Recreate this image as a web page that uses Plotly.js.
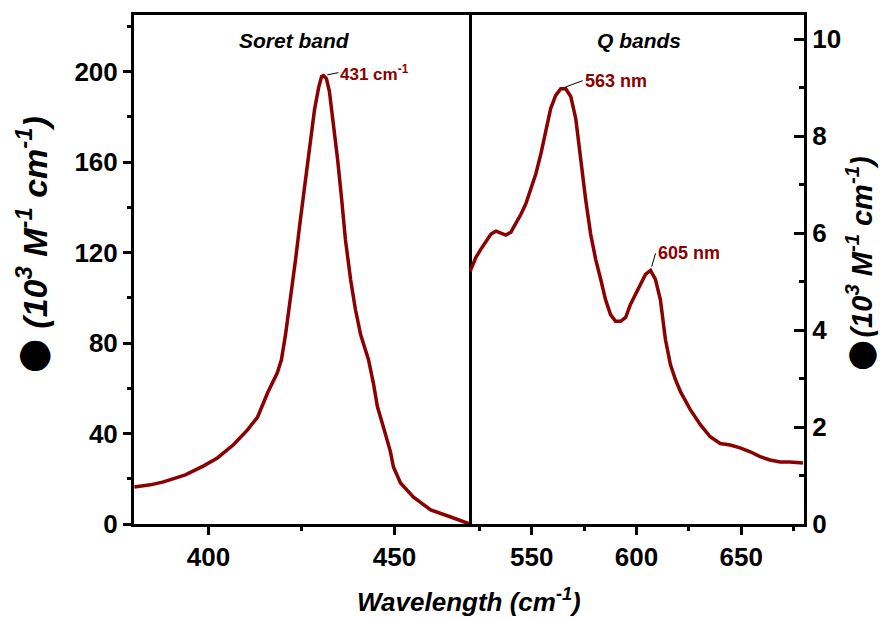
<!DOCTYPE html>
<html>
<head>
<meta charset="utf-8">
<script src="https://cdn.plot.ly/plotly-3.0.1.min.js"></script>
<style>html,body{margin:0;padding:0;background:#fff;}#chart{width:880px;height:619px;}</style>
</head>
<body>
<div id="chart"></div>
<script>
// Soret band (left panel)
const soretX = [380.1,384.4,387.9,393.8,398.7,402.4,406.7,410.5,413.2,415.9,418.5,419.6,420.7,422.0,423.4,424.7,426.1,427.4,428.5,429.6,430.4,430.9,431.7,432.5,433.6,434.7,435.8,436.8,438.2,439.5,440.9,442.2,443.0,444.4,445.4,447.0,448.9,449.7,451.6,455.1,459.7,465.1,470.2];
const soretY = [16.4,17.3,18.6,21.7,25.7,29.2,35.0,41.6,47.3,58.0,66.8,72.6,83.6,99.1,116.8,134.5,152.2,169.9,183.2,192.9,197.8,198.2,196.9,191.2,176.5,161.1,143.4,125.7,108.0,94.7,83.6,77.0,72.6,61.5,51.8,42.9,31.9,25.2,18.1,11.9,6.2,3.1,0.0];
// Q bands (right panel)
const qX = [520.5,523.3,525.7,528.1,530.5,532.9,535.2,537.6,540.0,542.4,544.8,547.1,549.5,551.9,554.3,556.7,559.0,561.4,563.8,566.2,568.6,571.0,573.3,575.7,578.1,580.5,582.9,585.2,587.6,590.0,592.4,594.8,597.1,599.5,601.9,604.3,606.7,609.0,611.4,613.8,616.2,618.6,621.0,625.7,630.5,635.2,640.0,644.8,649.5,654.3,659.0,663.8,668.6,673.3,679.5];
const qY = [5.21,5.50,5.67,5.81,5.98,6.04,6.00,5.96,6.02,6.19,6.39,6.60,6.91,7.22,7.63,8.15,8.57,8.84,8.98,8.98,8.82,8.36,7.53,6.70,5.98,5.46,5.05,4.63,4.32,4.18,4.18,4.26,4.53,4.74,4.95,5.15,5.23,5.05,4.63,3.81,3.29,2.98,2.73,2.36,2.05,1.80,1.66,1.63,1.57,1.49,1.39,1.32,1.28,1.28,1.26];

const soretXTicks = [400, 450];
const soretXMinor = [425];
const qXTicks = [550, 600, 650];
const qXMinor = [525, 575, 625, 675];
const soretYTicks = [0, 40, 80, 120, 160, 200];
const soretYMinor = [20, 60, 100, 140, 180, 220];
const qYTicks = [0, 2, 4, 6, 8, 10];
const qYMinor = [1, 3, 5, 7, 9];

const panelTitles = ['Soret band', 'Q bands'];
const peakLabels = ['431 cm<sup>-1</sup>', '563 nm', '605 nm'];
const ySymbol = '⬤';
const yUnits = '<b><i>(10<sup>3</sup> M<sup>-1</sup> cm<sup>-1</sup>)</i></b>';
const xTitle = '<b><i>Wavelength (cm<sup>-1</sup>)</i></b>';

const RED = '#8b0000';
const FONT = 'Liberation Sans, Arial, sans-serif';
const SYMFONT = 'DejaVu Sans, Noto Sans, sans-serif';
const tickFont = {family: FONT, size: 26, color: '#000', weight: 700};

function argmaxIn(xs, ys, lo, hi) {
  let best = -1;
  for (let i = 0; i < xs.length; i++) {
    if (xs[i] >= lo && xs[i] <= hi && (best < 0 || ys[i] > ys[best])) best = i;
  }
  return best;
}
const pS = argmaxIn(soretX, soretY, 380, 470);
const pQ1 = argmaxIn(qX, qY, 540, 580);
const pQ2 = argmaxIn(qX, qY, 598, 615);

const traces = [
  {x: soretX, y: soretY, xaxis: 'x', yaxis: 'y', mode: 'lines', line: {color: RED, width: 3.5}, hoverinfo: 'skip'},
  {x: qX, y: qY, xaxis: 'x2', yaxis: 'y2', mode: 'lines', line: {color: RED, width: 3.5}, hoverinfo: 'skip'}
];

const common = {showgrid: false, zeroline: false, showline: true, linecolor: '#000', linewidth: 3, tickcolor: '#000', tickwidth: 3, fixedrange: true};
const minorStyle = {ticklen: 4, tickwidth: 3, tickcolor: '#000'};

const layout = {
  width: 880, height: 619,
  margin: {l: 134, r: 76, t: 15, b: 95},
  paper_bgcolor: '#fff', plot_bgcolor: '#fff',
  showlegend: false,
  xaxis: Object.assign({}, common, {domain: [0, 0.5], range: [380, 470], anchor: 'y', mirror: true,
    tickmode: 'array', tickvals: soretXTicks, ticks: 'outside', ticklen: 8, tickfont: tickFont,
    minor: Object.assign({tickmode: 'array', tickvals: soretXMinor, ticks: 'outside'}, minorStyle)}),
  xaxis2: Object.assign({}, common, {domain: [0.5, 1], range: [520, 680], anchor: 'y2', mirror: true,
    tickmode: 'array', tickvals: qXTicks, ticks: 'outside', ticklen: 8, tickfont: tickFont,
    minor: Object.assign({tickmode: 'array', tickvals: qXMinor, ticks: 'outside'}, minorStyle)}),
  xaxis3: Object.assign({}, common, {overlaying: 'x', side: 'top', anchor: 'y', range: [380, 470], showline: false,
    tickmode: 'array', tickvals: soretXTicks, ticks: 'inside', ticklen: 8, showticklabels: false,
    minor: Object.assign({tickmode: 'array', tickvals: soretXMinor, ticks: 'inside'}, minorStyle)}),
  xaxis4: Object.assign({}, common, {overlaying: 'x2', side: 'top', anchor: 'y2', range: [520, 680], showline: false,
    tickmode: 'array', tickvals: qXTicks, ticks: 'inside', ticklen: 8, showticklabels: false,
    minor: Object.assign({tickmode: 'array', tickvals: qXMinor, ticks: 'inside'}, minorStyle)}),
  yaxis: Object.assign({}, common, {domain: [0, 1], range: [0, 225], anchor: 'x', mirror: true,
    tickmode: 'array', tickvals: soretYTicks, ticks: 'outside', ticklen: 8, tickfont: tickFont,
    minor: Object.assign({tickmode: 'array', tickvals: soretYMinor, ticks: 'outside'}, minorStyle)}),
  yaxis2: Object.assign({}, common, {domain: [0, 1], range: [0, 10.5], anchor: 'x2', side: 'right', mirror: false,
    tickmode: 'array', tickvals: qYTicks, ticks: 'inside', ticklen: 10, tickfont: tickFont,
    minor: {tickmode: 'array', tickvals: qYMinor, ticks: 'inside', ticklen: 5, tickwidth: 3, tickcolor: '#000'}}),
  annotations: [
    {text: '<b><i>' + panelTitles[0] + '</i></b>', xref: 'x domain', yref: 'paper', x: 0.48, y: 0.949, showarrow: false,
     xanchor: 'center', yanchor: 'middle', font: {family: FONT, size: 21, color: '#000'}},
    {text: '<b><i>' + panelTitles[1] + '</i></b>', xref: 'x2 domain', yref: 'paper', x: 0.507, y: 0.949, showarrow: false,
     xanchor: 'center', yanchor: 'middle', font: {family: FONT, size: 21, color: '#000'}},
    {text: '<b>' + peakLabels[0] + '</b>', xref: 'x', yref: 'y', x: soretX[pS], y: soretY[pS], showarrow: true,
     arrowhead: 0, arrowwidth: 1, arrowcolor: '#000', ax: 15, ay: -3, xanchor: 'left', yanchor: 'middle', standoff: 4,
     font: {family: FONT, size: 17, color: RED}},
    {text: '<b>' + peakLabels[1] + '</b>', xref: 'x2', yref: 'y2', x: qX[pQ1], y: qY[pQ1], showarrow: true,
     arrowhead: 0, arrowwidth: 1, arrowcolor: '#000', ax: 22, ay: -8, xanchor: 'left', yanchor: 'middle', standoff: 5,
     font: {family: FONT, size: 18, color: RED}},
    {text: '<b>' + peakLabels[2] + '</b>', xref: 'x2', yref: 'y2', x: qX[pQ2], y: qY[pQ2], showarrow: true,
     arrowhead: 0, arrowwidth: 1, arrowcolor: '#000', ax: 5, ay: -17, xanchor: 'left', yanchor: 'middle', standoff: 4,
     font: {family: FONT, size: 18, color: RED}},
    // left y title
    {text: yUnits, xref: 'paper', yref: 'paper', x: -0.153, y: 0.593, textangle: -90, showarrow: false,
     xanchor: 'center', yanchor: 'middle', font: {family: FONT, size: 34, color: '#000'}},
    {text: ySymbol, xref: 'paper', yref: 'paper', x: -0.152, y: 0.331, textangle: -90, showarrow: false,
     xanchor: 'center', yanchor: 'middle', font: {family: SYMFONT, size: 30, color: '#000'}},
    // right y title
    {text: yUnits, xref: 'paper', yref: 'paper', x: 1.082, y: 0.545, textangle: -90, showarrow: false,
     xanchor: 'center', yanchor: 'middle', font: {family: FONT, size: 29, color: '#000'}},
    {text: ySymbol, xref: 'paper', yref: 'paper', x: 1.085, y: 0.331, textangle: -90, showarrow: false,
     xanchor: 'center', yanchor: 'middle', font: {family: SYMFONT, size: 27, color: '#000'}},
    {text: xTitle, xref: 'paper', yref: 'paper', x: 0.5, y: -0.151, showarrow: false,
     xanchor: 'center', yanchor: 'middle', font: {family: FONT, size: 26, color: '#000'}}
  ]
};

Plotly.newPlot('chart', traces, layout, {displayModeBar: false, staticPlot: true});
</script>
</body>
</html>
